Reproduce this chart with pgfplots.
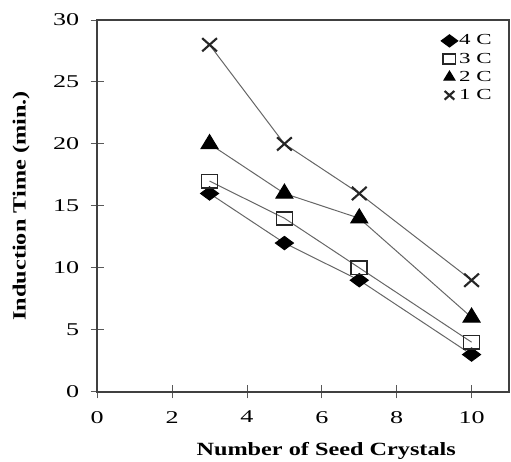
\documentclass[border=0pt]{standalone}
\usepackage{fontspec}
\setmainfont[FakeStretch=1.3]{Liberation Serif}
\newfontfamily\tickfont[FakeStretch=1.45]{Liberation Serif}
\newfontfamily\legfont[FakeStretch=1.5]{Liberation Serif}
\usepackage{pgfplots}
\pgfplotsset{compat=1.18}
\begin{document}
\begin{tikzpicture}
\begin{axis}[
  scale only axis,
  width=309pt, height=279pt,
  xmin=0, xmax=11, ymin=0, ymax=30,
  xtick={0,2,4,6,8,10}, ytick={0,5,...,30},
  tick align=center,
  tick pos=left,
  major tick length=10pt,
  axis line style={line width=1.3pt, black!75},
  tick style={black!65, line width=0.7pt},
  /pgf/number format/assume math mode=true,
  ticklabel style={font=\tickfont\fontsize{13.5}{13.5}\selectfont},
  yticklabel style={anchor=east, xshift=-5pt},
  xticklabel style={anchor=north, yshift=-6pt},
  xlabel={\textbf{Number of Seed Crystals}},
  ylabel={\textbf{Induction Time (min.)}},
  xlabel style={font=\fontsize{14}{14}\selectfont, at={(axis description cs:0.556,0)}, anchor=center, yshift=-44.5pt},
  ylabel style={font=\fontsize{14}{14}\selectfont, at={(axis description cs:-0.185,0.5)}, anchor=center},
  legend style={draw=none, fill=none, at={(0.965,0.968)}, anchor=north east,
    font=\legfont\fontsize{11.5}{11.5}\selectfont, row sep=2.5pt, inner sep=1pt,
    nodes={inner sep=1pt}},
  legend cell align=left,
  legend image code/.code={\draw[#1, mark size=4.6pt] plot coordinates {(0.15cm,0cm)};},
  every axis plot/.append style={black!60, line width=0.75pt},
]
\addplot[mark=diamond*, mark size=5pt, mark options={xscale=1.8, fill=black, draw=black}] coordinates {(3,16) (5,12) (7,9) (10,3)};
\addlegendentry{4 C}
\addplot[mark=square, mark size=6pt, mark options={yscale=0.82, draw=black!85, line width=1.3pt}] coordinates {(3,17) (5,14) (7,10) (10,4)};
\addlegendentry{3 C}
\addplot[mark=triangle*, mark size=7pt, mark options={xscale=1.05, fill=black, draw=black}] coordinates {(3,20) (5,16) (7,14) (10,6)};
\addlegendentry{2 C}
\addplot[mark=x, mark size=7pt, mark options={xscale=1.12, draw=black!85, line width=1.6pt}] coordinates {(3,28) (5,20) (7,16) (10,9)};
\addlegendentry{1 C}
\coordinate (O) at (rel axis cs:0,0);
\coordinate (T) at (rel axis cs:1,1);
\end{axis}
\pgfresetboundingbox
\path ([shift={(-73pt,-52pt)}]O) rectangle ([shift={(1.5pt,15pt)}]T);
\end{tikzpicture}
\end{document}
